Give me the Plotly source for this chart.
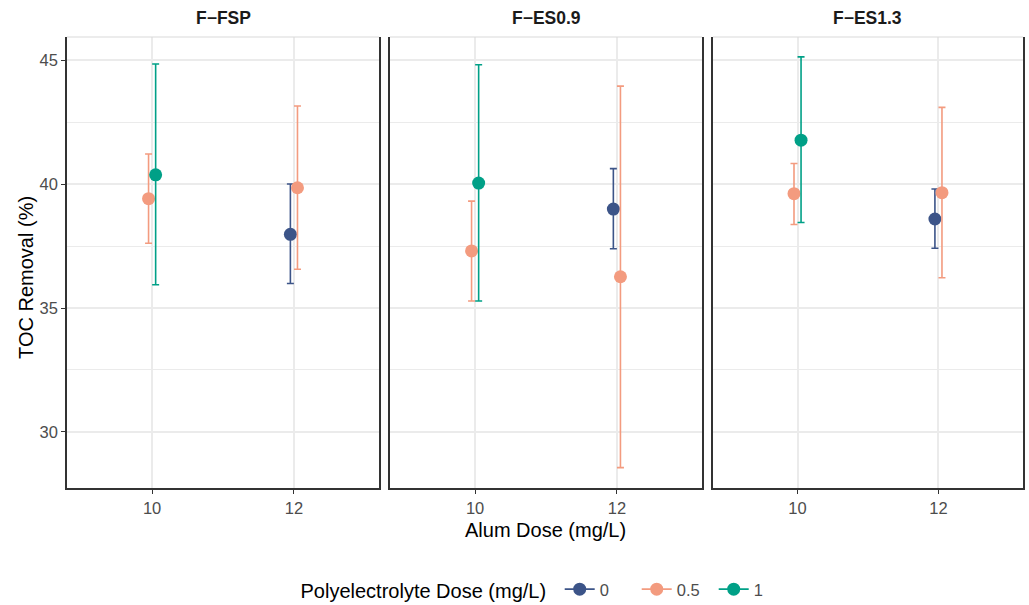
import plotly.graph_objects as go

# Facets, alum dose categories and polyelectrolyte dose levels
panels = ["F\u2212FSP", "F\u2212ES0.9", "F\u2212ES1.3"]
alum_levels = ["10", "12"]
dose_levels = ["0", "0.5", "1"]
dose_colors = ["#3C5488", "#F39B7F", "#00A087"]

# One row per (facet, alum dose, polyelectrolyte dose)
panel = ["F\u2212FSP"] * 4 + ["F\u2212ES0.9"] * 4 + ["F\u2212ES1.3"] * 4
alum = ["10", "10", "12", "12"] * 3
dose = ["0.5", "1", "0", "0.5"] * 3
toc_mean = [39.41, 40.37, 37.97, 39.85,
            37.30, 40.04, 38.99, 36.26,
            39.61, 41.77, 38.59, 39.65]
toc_low = [37.61, 35.94, 35.99, 36.56,
           35.28, 35.28, 37.39, 28.56,
           38.37, 38.45, 37.41, 36.22]
toc_high = [41.21, 44.84, 40.00, 43.15,
            39.31, 44.81, 40.62, 43.95,
            40.83, 45.13, 39.80, 43.09]

y_ticks = [30, 35, 40, 45]
y_minor = [32.5, 37.5, 42.5]
y_range = [27.74, 45.93]

FONT = "Liberation Sans, Arial, sans-serif"
DODGE = 0.1
GRID = "#EBEBEB"
BORDER = "#333333"
TICKTXT = "#4D4D4D"
TICK_SIZE = 16.5
TITLE_SIZE = 20

domains = [[0.0, 0.3264], [0.3379, 0.6642], [0.6757, 1.0]]

fig = go.Figure()

# dodge positions: groups present at each (facet, alum) share the dodge width
for p_i, pname in enumerate(panels):
    ax = "" if p_i == 0 else str(p_i + 1)
    for d_i, dname in enumerate(dose_levels):
        xs, ys, up, dn = [], [], [], []
        for k in range(len(panel)):
            if panel[k] != pname or dose[k] != dname:
                continue
            present = sorted(
                {dose[j] for j in range(len(panel)) if panel[j] == pname and alum[j] == alum[k]},
                key=float,
            )
            n = len(present)
            idx = present.index(dname)
            offset = (idx - (n - 1) / 2) * DODGE / n
            xs.append(alum_levels.index(alum[k]) + 1 + offset)
            ys.append(toc_mean[k])
            up.append(toc_high[k] - toc_mean[k])
            dn.append(toc_mean[k] - toc_low[k])
        fig.add_trace(go.Scatter(
            x=xs, y=ys, mode="markers",
            name=dname, legendgroup=dname, showlegend=False,
            marker=dict(color=dose_colors[d_i], size=13, line=dict(width=0)),
            error_y=dict(type="data", symmetric=False, array=up, arrayminus=dn,
                         color=dose_colors[d_i], thickness=1.6, width=3.5),
            xaxis="x" + ax, yaxis="y" + ax,
        ))

# legend keys: a short line through the point
for d_i, dname in enumerate(dose_levels):
    fig.add_trace(go.Scatter(
        x=[None], y=[None], mode="lines+markers", name=dname, legendgroup=dname,
        showlegend=True,
        marker=dict(color=dose_colors[d_i], size=13, line=dict(width=0)),
        line=dict(color=dose_colors[d_i], width=1.6),
        xaxis="x", yaxis="y",
    ))

layout = dict(
    width=1029, height=605,
    margin=dict(l=67, r=6, t=37, b=117, autoexpand=False),
    paper_bgcolor="white", plot_bgcolor="white",
    font=dict(family=FONT, color="black"),
    showlegend=True,
    legend=dict(
        orientation="h", x=0.5, xanchor="center", y=-0.226, yanchor="middle",
        title=dict(text="Polyelectrolyte Dose (mg/L) ", side="left",
                   font=dict(size=TITLE_SIZE, color="black", family=FONT)),
        font=dict(size=TICK_SIZE, color=TICKTXT, family=FONT),
        itemwidth=30, traceorder="normal",
        entrywidth=32, entrywidthmode="pixels",
    ),
)

annotations = []
shapes = []
for p_i, pname in enumerate(panels):
    ax = "" if p_i == 0 else str(p_i + 1)
    layout["xaxis" + ax] = dict(
        domain=domains[p_i], anchor="y" + ax, range=[0.4, 2.6],
        tickmode="array", tickvals=[1, 2], ticktext=alum_levels,
        showgrid=True, gridcolor=GRID, gridwidth=1.6, zeroline=False,
        ticks="outside", ticklen=4, tickwidth=1.2, tickcolor=BORDER,
        tickfont=dict(size=TICK_SIZE, color=TICKTXT, family=FONT),
        showline=True, linecolor=BORDER, linewidth=1.6, mirror=False,
        fixedrange=True,
    )
    layout["yaxis" + ax] = dict(
        domain=[0, 1], anchor="x" + ax, range=y_range,
        tickmode="array", tickvals=y_ticks,
        showticklabels=(p_i == 0), ticks="outside" if p_i == 0 else "",
        ticklen=4, tickwidth=1.2, tickcolor=BORDER,
        tickfont=dict(size=TICK_SIZE, color=TICKTXT, family=FONT),
        showgrid=True, gridcolor=GRID, gridwidth=1.6, zeroline=False,
        minor=dict(tickmode="array", tickvals=y_minor, showgrid=True,
                   gridcolor=GRID, gridwidth=0.8),
        showline=True, linecolor=BORDER, linewidth=1.6, mirror=True,
        fixedrange=True,
    )
    # facet strip label
    annotations.append(dict(
        text="<b>%s</b>" % pname, x=sum(domains[p_i]) / 2, y=1.042,
        xref="paper", yref="paper", xanchor="center", yanchor="middle",
        showarrow=False, font=dict(size=17.5, color="#1A1A1A", family=FONT),
    ))
    # light top edge of each panel
    shapes.append(dict(
        type="line", xref="x%s domain" % ax, yref="y%s domain" % ax,
        x0=0, x1=1, y0=1, y1=1, line=dict(color="#D9D9D9", width=1.2),
    ))

annotations.append(dict(
    text="Alum Dose (mg/L)", x=0.5, y=-0.0932, xref="paper", yref="paper",
    xanchor="center", yanchor="middle", showarrow=False,
    font=dict(size=TITLE_SIZE, color="black", family=FONT),
))
annotations.append(dict(
    text="TOC Removal (%)", x=-0.0429, y=0.468, xref="paper", yref="paper",
    xanchor="center", yanchor="middle", textangle=-90, showarrow=False,
    font=dict(size=TITLE_SIZE, color="black", family=FONT),
))

layout["annotations"] = annotations
layout["shapes"] = shapes
fig.update_layout(**layout)

fig.write_html("out.html")
